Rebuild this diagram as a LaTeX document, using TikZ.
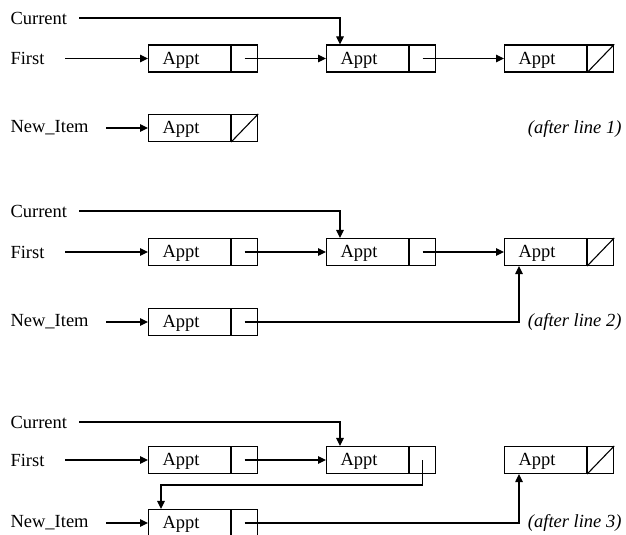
\documentclass[tikz,border=0pt]{standalone}
\usepackage{fontspec}
\setmainfont{Liberation Serif}
\usetikzlibrary{arrows.meta}
\newcommand{\apptxt}{\makebox[54pt][l]{Appt}}
\begin{document}
\begin{tikzpicture}[x=1pt,y=-1pt,line width=1.1pt,
  every node/.style={font=\fontsize{18.5}{22}\selectfont},
  datacell/.style={draw, minimum width=82pt, minimum height=27pt, inner sep=0pt, text height=11.5pt, text depth=0pt, anchor=west},
  ptrcell/.style={draw, minimum width=26pt, minimum height=27pt, inner sep=0pt, anchor=west},
  lbl/.style={anchor=west, inner sep=0pt},
  note/.style={anchor=east, inner sep=0pt, font=\fontsize{18.5}{22}\selectfont\itshape},
  ptr/.style={-{Triangle[length=8pt,width=7.5pt]}}]
\useasboundingbox (0,0) rectangle (626,535);

% ---------- panel 1 ----------
\node[lbl] (c1) at (10,18) {Current};
\node[lbl] (f1) at (10,58.5) {First};
\node[lbl] (n1) at (10,128) {New\_Item};
\coordinate (cs1) at (79,18);
\coordinate (fs1) at (65,58.5);
\coordinate (ns1) at (106,128);
\node[datacell] (a11) at (148,58.5) {\apptxt};
\node[ptrcell] (p11) at (a11.east) {};
\node[datacell] (a12) at (326,58.5) {\apptxt};
\node[ptrcell] (p12) at (a12.east) {};
\node[datacell] (a13) at (504,58.5) {\apptxt};
\node[ptrcell] (p13) at (a13.east) {};
\node[datacell] (a14) at (148,128) {\apptxt};
\node[ptrcell] (p14) at (a14.east) {};
\node[note] (t1) at (622,129) {(after line 1)};
\draw[ptr] (cs1) -| ([xshift=14pt]a12.north west);
\draw[ptr] (fs1) -- (a11.west);
\draw[ptr] (p11.center) -- (a12.west);
\draw[ptr] (p12.center) -- (a13.west);
\draw[ptr] (ns1) -- (a14.west);
\draw (p13.south west) -- (p13.north east);
\draw (p14.south west) -- (p14.north east);

% ---------- panel 2 ----------
\node[lbl] (c2) at (10,211) {Current};
\node[lbl] (f2) at (10,252) {First};
\node[lbl] (n2) at (10,322) {New\_Item};
\coordinate (cs2) at (79,211);
\coordinate (fs2) at (65,252);
\coordinate (ns2) at (106,322);
\node[datacell] (a21) at (148,252) {\apptxt};
\node[ptrcell] (p21) at (a21.east) {};
\node[datacell] (a22) at (326,252) {\apptxt};
\node[ptrcell] (p22) at (a22.east) {};
\node[datacell] (a23) at (504,252) {\apptxt};
\node[ptrcell] (p23) at (a23.east) {};
\node[datacell] (a24) at (148,322) {\apptxt};
\node[ptrcell] (p24) at (a24.east) {};
\node[note] (t2) at (622,322) {(after line 2)};
\draw[ptr] (cs2) -| ([xshift=14pt]a22.north west);
\draw[ptr] (fs2) -- (a21.west);
\draw[ptr] (p21.center) -- (a22.west);
\draw[ptr] (p22.center) -- (a23.west);
\draw[ptr] (ns2) -- (a24.west);
\draw[ptr] (p24.center) -| ([xshift=15pt]a23.south west);
\draw (p23.south west) -- (p23.north east);

% ---------- panel 3 ----------
\node[lbl] (c3) at (10,422) {Current};
\node[lbl] (f3) at (10,460) {First};
\node[lbl] (n3) at (10,523) {New\_Item};
\coordinate (cs3) at (79,422);
\coordinate (fs3) at (65,460);
\coordinate (ns3) at (106,523);
\node[datacell] (a31) at (148,460) {\apptxt};
\node[ptrcell] (p31) at (a31.east) {};
\node[datacell] (a32) at (326,460) {\apptxt};
\node[ptrcell] (p32) at (a32.east) {};
\node[datacell] (a33) at (504,460) {\apptxt};
\node[ptrcell] (p33) at (a33.east) {};
\node[datacell] (a34) at (148,523) {\apptxt};
\node[ptrcell] (p34) at (a34.east) {};
\node[note] (t3) at (622,523) {(after line 3)};
\draw[ptr] (cs3) -| ([xshift=14pt]a32.north west);
\draw[ptr] (fs3) -- (a31.west);
\draw[ptr] (p31.center) -- (a32.west);
\draw[ptr] (p32.center) -- ++(0,25) -| ([xshift=13pt]a34.north west);
\draw[ptr] (ns3) -- (a34.west);
\draw[ptr] (p34.center) -| ([xshift=15pt]a33.south west);
\draw (p33.south west) -- (p33.north east);
\end{tikzpicture}
\end{document}
